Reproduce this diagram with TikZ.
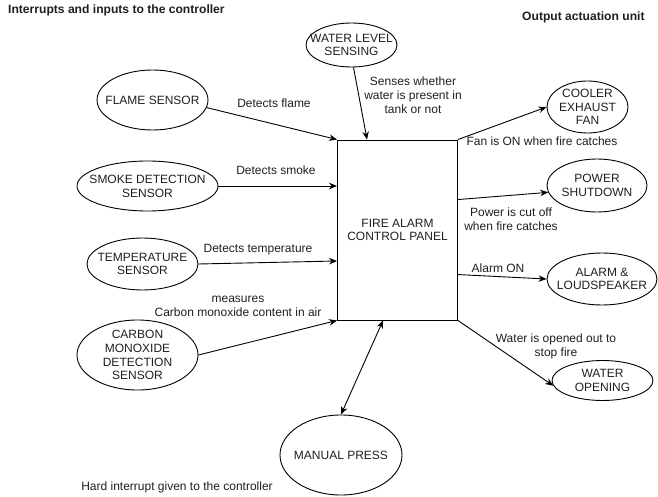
\documentclass[tikz,border=0pt]{standalone}
\usepackage{fontspec}
\setmainfont{Liberation Sans}
\usetikzlibrary{shapes.geometric,arrows.meta}
\begin{document}
\begin{tikzpicture}[x=1pt,y=-1pt,
  every node/.style={font=\fontsize{12}{13.8}\selectfont, text=black!88},
  oval/.style={draw, ellipse, inner sep=0pt, line width=0.9pt},
  lbl/.style={align=center, inner sep=0pt},
  ttl/.style={font=\fontsize{12.1}{14}\selectfont\bfseries, inner sep=0pt},
  conn/.style={line width=0.9pt, -{Stealth[length=8pt,width=6.5pt]}},
  biconn/.style={line width=0.9pt, {Stealth[length=8pt,width=6.5pt]}-{Stealth[length=8pt,width=6.5pt]}}]
\useasboundingbox (0,0) rectangle (658,497);
% titles
\node[ttl, anchor=west] (t1) at (8,10) {Interrupts and inputs to the controller};
\node[ttl, anchor=west] (t2) at (522,17) {Output actuation unit};
% central box
\node[draw, line width=0.9pt, minimum width=120pt, minimum height=180pt, inner sep=0pt] (box) at (397.5,230) {};
\node[lbl] (boxT) at (box.center) {FIRE ALARM\\CONTROL PANEL};
% input ellipses
\node[oval, minimum width=91pt, minimum height=44pt] (wl) at (351.5,45) {};
\node[lbl] (wlT) at (wl.center) {WATER LEVEL\\SENSING};
\node[oval, minimum width=111pt, minimum height=60pt] (flame) at (152.5,100) {};
\node[lbl] (flameT) at (flame.center) {FLAME SENSOR};
\node[oval, minimum width=141pt, minimum height=50pt] (smoke) at (147.5,186) {};
\node[lbl] (smokeT) at (smoke.center) {SMOKE DETECTION\\SENSOR};
\node[oval, minimum width=111pt, minimum height=52pt] (temp) at (142.5,264) {};
\node[lbl] (tempT) at (temp.center) {TEMPERATURE\\SENSOR};
\node[oval, minimum width=121pt, minimum height=70pt] (co) at (137.5,355) {};
\node[lbl] (coT) at (co.center) {CARBON\\MONOXIDE\\DETECTION\\SENSOR};
\node[oval, minimum width=122pt, minimum height=80pt] (mp) at (341,455) {};
\node[lbl] (mpT) at (mp.center) {MANUAL PRESS};
% output ellipses
\node[oval, minimum width=81pt, minimum height=52pt] (cool) at (587.5,107) {};
\node[lbl] (coolT) at (cool.center) {COOLER\\EXHAUST\\FAN};
\node[oval, minimum width=100pt, minimum height=53pt] (power) at (597,185.5) {};
\node[lbl] (powerT) at (power.center) {POWER\\SHUTDOWN};
\node[oval, minimum width=110pt, minimum height=52pt] (alarm) at (602,279) {};
\node[lbl] (alarmT) at (alarm.center) {ALARM \&\\LOUDSPEAKER};
\node[oval, minimum width=101pt, minimum height=40pt] (wo) at (602.5,380.5) {};
\node[lbl] (woT) at (wo.center) {WATER\\OPENING};
% connectors in
\draw[conn] (flame.-8) -- (box.north west);
\draw[conn] (smoke.east) -- (smoke.east -| box.west);
\draw[conn] (temp.east) -- ([yshift=-31pt]box.west);
\draw[conn] (co.east) -- (box.south west);
\draw[conn] ([xshift=2pt]wl.south) -- ([xshift=30pt]box.north west);
\draw[biconn] (mp.north) -- ([xshift=46pt]box.south west);
% connectors out
\draw[conn] (box.north east) -- (cool.west);
\draw[conn] ([yshift=-60pt]box.north east) -- (power.188);
\draw[conn] ([yshift=-135pt]box.north east) -- (alarm.west);
\draw[conn] (box.south east) -- (wo.186);
% labels
\node[lbl] (l1) at (274,103) {Detects flame};
\node[lbl] (l2) at (276,170) {Detects smoke};
\node[lbl] (l3) at (258,250) {Detects temperature};
\node[lbl] (l4) at (238,306) {measures\\Carbon monoxide content in air};
\node[lbl] (l5) at (413,95) {Senses whether\\water is present in\\tank or not};
\node[lbl] (l6) at (542,141) {Fan is ON when fire catches};
\node[lbl] (l7) at (511,219) {Power is cut off\\when fire catches};
\node[lbl] (l8) at (498,268) {Alarm ON};
\node[lbl] (l9) at (556,346) {Water is opened out to\\stop fire};
\node[lbl] (l10) at (177,487) {Hard interrupt given to the controller};
\end{tikzpicture}
\end{document}
